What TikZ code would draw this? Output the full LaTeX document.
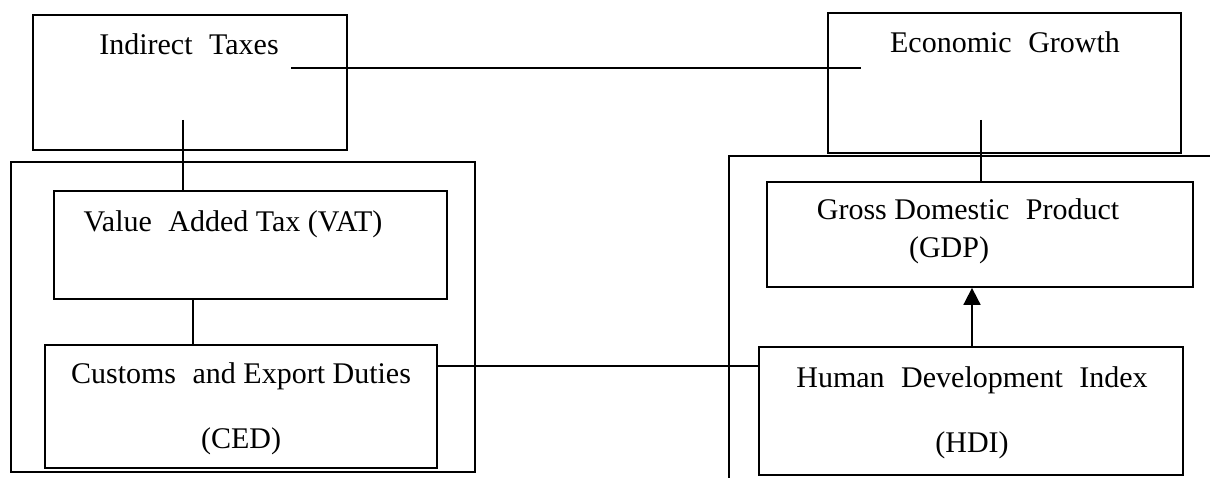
\documentclass[tikz,border=0pt]{standalone}
\usepackage{fontspec}
\setmainfont{Liberation Serif}
\usetikzlibrary{arrows.meta,fit}
\tikzset{
  box/.style={draw, line width=1.8pt, inner sep=0pt, fill=none},
  txt/.style={font=\fontsize{30}{36}\selectfont, inner sep=0pt, anchor=base},
  link/.style={line width=1.8pt},
  arr/.style={line width=1.8pt, -{Triangle[width=17pt,length=17pt]}}
}
\begin{document}
\begin{tikzpicture}[x=1pt,y=-1pt]
\useasboundingbox (0,0) rectangle (1210,478);
% outer frames
\node[box, fit={(11,162)(475,472)}] (leftframe) {};
\draw[link] (1212,156) -- (729,156) -- (729,480);
% boxes
\node[box, fit={(33,15)(347,150)}] (it) {};
\node[box, fit={(828,13)(1181,153)}] (eg) {};
\node[box, fit={(54,191)(447,299)}] (vat) {};
\node[box, fit={(45,345)(437,468)}] (ced) {};
\node[box, fit={(767,182)(1193,287)}] (gdp) {};
\node[box, fit={(759,347)(1183,475)}] (hdi) {};
% texts
\node[txt] (itT) at (189,55) {Indirect\hspace{0.3em} Taxes};
\node[txt] (egT) at (1005,53) {Economic\hspace{0.3em} Growth};
\node[txt] (vatT) at (233,232) {Value\hspace{0.3em} Added Tax (VAT)};
\node[txt] (cedT1) at (241,383) {Customs\hspace{0.3em} and Export Duties};
\node[txt] (cedT2) at (241,448) {(CED)};
\node[txt] (gdpT1) at (968,220) {Gross Domestic\hspace{0.3em} Product};
\node[txt] (gdpT2) at (949,258) {(GDP)};
\node[txt] (hdiT1) at (972,387) {Human\hspace{0.3em} Development\hspace{0.3em} Index};
\node[txt] (hdiT2) at (972,452) {(HDI)};
% free ends of connectors
\coordinate (itR) at (291,68);
\coordinate (egL) at (861,68);
\coordinate (itD) at (183,120);
\coordinate (egD) at (981,120);
% connectors
\draw[link] (itR) -- (egL);
\draw[link] (itD) -- (vat.north -| itD);
\draw[link] (egD) -- (gdp.north -| egD);
\draw[link] (vat.south -| 193,0) -- (ced.north -| 193,0);
\draw[link] (ced.east |- 0,366) -- (hdi.west |- 0,366);
\draw[arr] (hdi.north -| 972,0) -- (gdp.south -| 972,0);
\end{tikzpicture}
\end{document}
